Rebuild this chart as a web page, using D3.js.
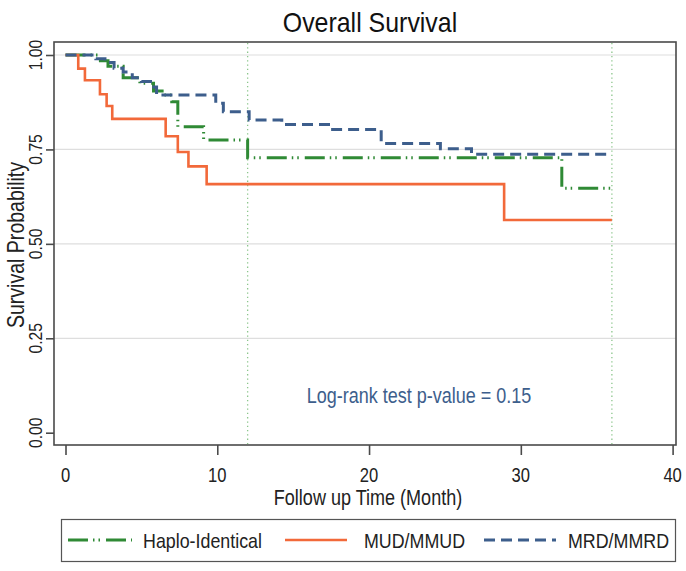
<!DOCTYPE html>
<html><head><meta charset="utf-8">
<script src="https://cdn.jsdelivr.net/npm/d3@7"></script>
<style>html,body{margin:0;padding:0;background:#fff;}svg{display:block;}</style>
</head><body>
<svg id="chart" width="686" height="571"></svg>
<script>
// ---- data ----
const seriesNames = ["Haplo-Identical", "MUD/MMUD", "MRD/MMRD"];
const haploTime = [0, 2.3, 2.8, 3.8, 4.9, 5.8, 6.5, 7.0, 7.4, 9.1, 12.0, 32.7, 36];
const haploSurv = [1.0, 0.985, 0.97, 0.94, 0.925, 0.905, 0.894, 0.876, 0.81, 0.775, 0.728, 0.647, 0.647];
const mudTime = [0, 0.84, 1.28, 2.27, 2.71, 3.08, 6.6, 7.4, 8.1, 9.3, 28.9, 36];
const mudSurv = [1.0, 0.964, 0.933, 0.896, 0.865, 0.831, 0.785, 0.743, 0.705, 0.658, 0.563, 0.563];
const mrdTime = [0, 2.0, 2.6, 3.2, 3.8, 4.4, 5.0, 5.6, 6.0, 9.9, 10.4, 12.1, 14.25, 17.6, 20.8, 24.7, 26.75, 36];
const mrdSurv = [1.0, 0.99, 0.98, 0.965, 0.955, 0.94, 0.93, 0.915, 0.894, 0.872, 0.85, 0.828, 0.816, 0.803, 0.766, 0.752, 0.737, 0.737];
const xTicks = [0, 10, 20, 30, 40];
const yTicks = [0, 0.25, 0.5, 0.75, 1];
const yTickLabels = ["0.00", "0.25", "0.50", "0.75", "1.00"];
const refLines = [12, 36];
const titleText = "Overall Survival";
const xTitle = "Follow up Time (Month)";
const yTitle = "Survival Probability";
const annotation = "Log-rank test p-value = 0.15";

// ---- layout ----
const svg = d3.select("#chart");
const frame = {l: 54, r: 676, t: 42, b: 445};
const x = d3.scaleLinear().domain([0, 40]).range([65.5, 672.6]);
const y = d3.scaleLinear().domain([0, 1]).range([432.7, 55]);
const FONT = "'Liberation Sans', Arial, sans-serif";
const colors = {haplo: "#2f8a35", mud: "#f2693a", mrd: "#3d5e8c"};

function txt(g, px, py, s, size, k, anchor, rot, fill) {
  return g.append("text")
    .attr("transform", `translate(${px},${py})` + (rot ? ` rotate(${rot})` : "") + ` scale(${k},1)`)
    .attr("font-family", FONT).attr("font-size", size)
    .attr("text-anchor", anchor || "start")
    .attr("fill", fill || "#222").text(s);
}

// gridlines
svg.append("g").selectAll("line").data(yTicks.filter(d => d > 0)).join("line")
  .attr("x1", frame.l).attr("x2", frame.r)
  .attr("y1", d => y(d)).attr("y2", d => y(d))
  .attr("stroke", "#dedede").attr("stroke-width", 1.2);

// reference lines
svg.append("g").selectAll("line").data(refLines).join("line")
  .attr("x1", d => x(d)).attr("x2", d => x(d))
  .attr("y1", frame.t + 1).attr("y2", frame.b - 1)
  .attr("stroke", "#8cc68c").attr("stroke-width", 1.3)
  .attr("stroke-dasharray", "1.3 3");

// curves
const line = d3.line().x(d => x(d[0])).y(d => y(d[1])).curve(d3.curveStepAfter);
const curves = [
  {t: haploTime, s: haploSurv, c: colors.haplo, w: 3, dash: "20 5 1.5 4 1.5 6"},
  {t: mudTime, s: mudSurv, c: colors.mud, w: 2.6, dash: null},
  {t: mrdTime, s: mrdSurv, c: colors.mrd, w: 3, dash: "11 6"}
];
curves.forEach(cv => {
  const pts = cv.t.map((t, i) => [t, cv.s[i]]);
  svg.append("path").attr("d", line(pts)).attr("fill", "none")
    .attr("stroke", cv.c).attr("stroke-width", cv.w)
    .attr("stroke-dasharray", cv.dash);
});

// frame
svg.append("rect").attr("x", frame.l).attr("y", frame.t)
  .attr("width", frame.r - frame.l).attr("height", frame.b - frame.t)
  .attr("fill", "none").attr("stroke", "#4a4a4a").attr("stroke-width", 1.6);

// axes via d3
const xAxis = d3.axisBottom(x).tickValues(xTicks).tickSize(10).tickFormat("");
const gx = svg.append("g").attr("transform", `translate(0,${frame.b})`).call(xAxis);
gx.select(".domain").remove();
gx.selectAll("line").attr("stroke", "#4a4a4a").attr("stroke-width", 1.6);
const yAxis = d3.axisLeft(y).tickValues(yTicks).tickSize(8).tickFormat("");
const gy = svg.append("g").attr("transform", `translate(${frame.l},0)`).call(yAxis);
gy.select(".domain").remove();
gy.selectAll("line").attr("stroke", "#4a4a4a").attr("stroke-width", 1.6);

// tick labels
const lab = svg.append("g");
xTicks.forEach(v => txt(lab, x(v), 482, String(v), 19.5, 0.85, "middle"));
yTicks.forEach((v, i) => txt(lab, 42, y(v), yTickLabels[i], 18.5, 0.85, "middle", -90));

// titles
txt(svg, 368, 505, xTitle, 22, 0.82, "middle");
txt(svg, 24, 245, yTitle, 23, 0.85, "middle", -90);
txt(svg, 370, 32, titleText, 28, 0.89, "middle", null, "#111");
txt(svg, 306.7, 403, annotation, 22.5, 0.8, "start", null, colors.mrd);

// legend
const lg = svg.append("g");
lg.append("rect").attr("x", 61.5).attr("y", 519.5).attr("width", 614).attr("height", 42)
  .attr("fill", "#fff").attr("stroke", "#555").attr("stroke-width", 1.2);
const legItems = [
  {x1: 68, x2: 132, tx: 143, c: colors.haplo, w: 3, dash: "20 5 1.5 4 1.5 6"},
  {x1: 285, x2: 347, tx: 364, c: colors.mud, w: 2.6, dash: null},
  {x1: 484, x2: 556, tx: 568, c: colors.mrd, w: 3, dash: "11 6"}
];
legItems.forEach((it, i) => {
  lg.append("line").attr("x1", it.x1).attr("x2", it.x2).attr("y1", 540).attr("y2", 540)
    .attr("stroke", it.c).attr("stroke-width", it.w).attr("stroke-dasharray", it.dash);
  txt(lg, it.tx, 548, seriesNames[i], 21, 0.85, "start");
});
</script>
</body></html>
